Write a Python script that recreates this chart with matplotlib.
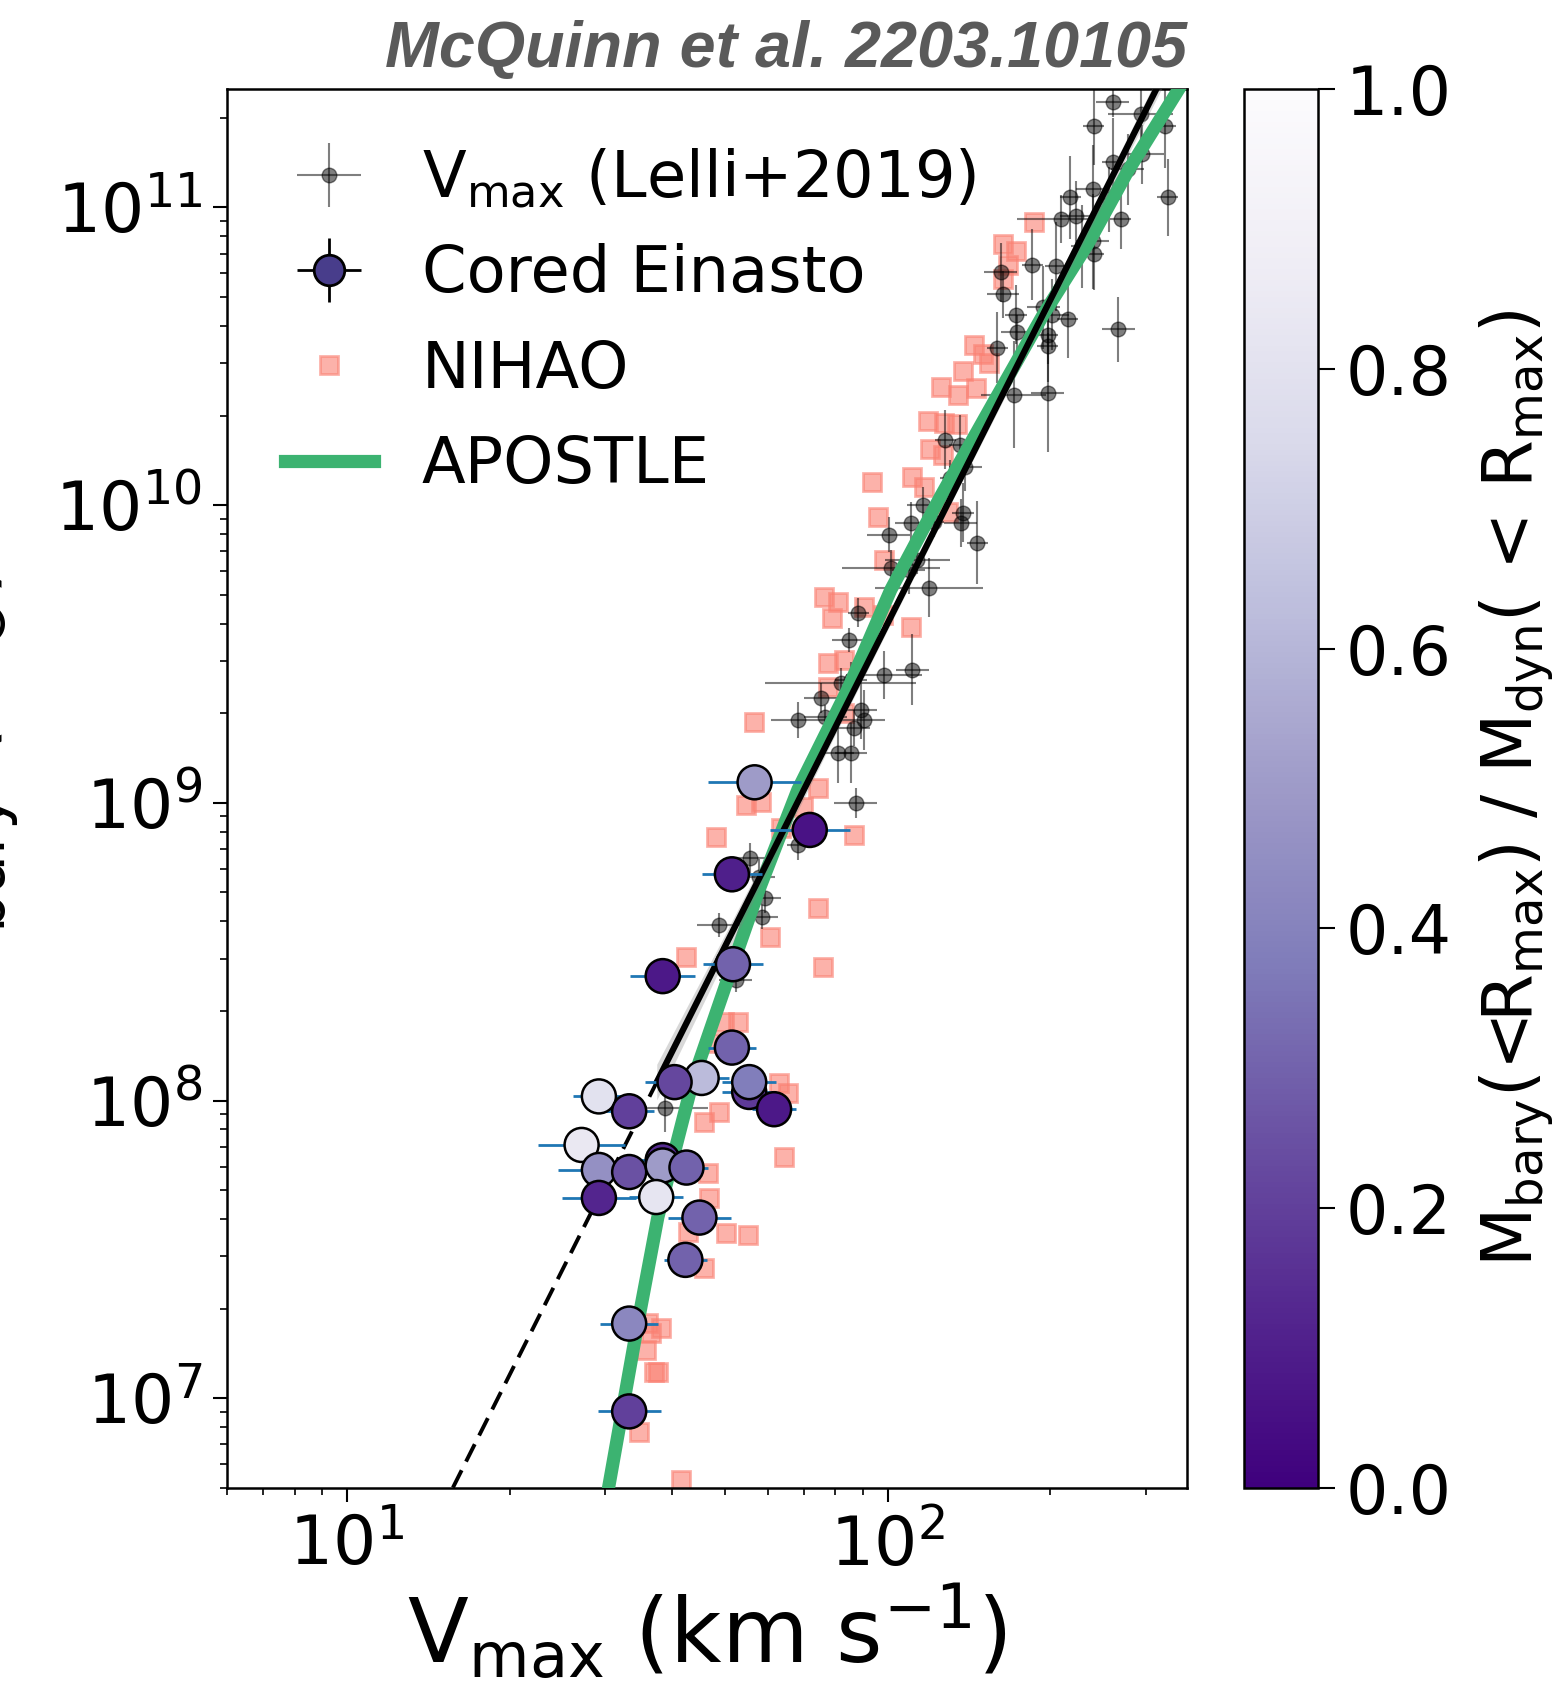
import numpy as np
import matplotlib
matplotlib.use("Agg")
import matplotlib.pyplot as plt

plt.rcParams['font.family'] = ['DejaVu Sans']
plt.rcParams['mathtext.fontset'] = 'dejavusans'

# Lelli+2019: log10 Vmax (km/s), log10 Mbary (Msun), errors in dex
lelli_logv = [2.416, 2.381, 2.514, 2.468, 2.416, 2.471, 2.444, 2.379, 2.338, 2.409,
              2.518, 2.320, 2.348, 2.431, 2.360, 2.379, 2.381, 2.268, 2.311, 2.209,
              2.213, 2.288, 2.305, 2.237, 2.333, 2.240, 2.296, 2.296, 2.427, 2.203,
              2.233, 2.296, 2.107, 2.133, 2.144, 2.116, 2.065, 2.043, 2.002, 2.139,
              2.135, 2.166, 2.085, 2.006, 2.039, 2.055, 2.076, 1.946, 1.928, 1.913,
              1.932, 1.993, 2.046, 1.876, 1.834, 1.885, 1.950, 1.956, 1.937, 1.908,
              1.932, 1.941, 1.834, 1.745, 1.762, 1.773, 1.767, 1.688, 1.719, 1.588]
lelli_logm = [11.353, 11.272, 11.272, 11.313, 11.151, 11.178, 11.128, 11.061, 11.034, 11.027,
              11.034, 10.960, 10.970, 10.960, 10.869, 10.886, 10.842, 10.808, 10.802, 10.782,
              10.708, 10.664, 10.640, 10.640, 10.624, 10.580, 10.573, 10.533, 10.590, 10.529,
              10.371, 10.378, 10.220, 10.203, 10.129, 10.092, 10.002, 9.941, 9.901, 9.975,
              9.941, 9.874, 9.944, 9.790, 9.783, 9.817, 9.723, 9.639, 9.548, 9.403,
              9.413, 9.430, 9.447, 9.353, 9.279, 9.289, 9.313, 9.279, 9.252, 9.168,
              9.168, 9.000, 8.859, 8.815, 8.751, 8.681, 8.617, 8.590, 8.405, 7.975]
lelli_xerr = [0.03, 0.02, 0.02, 0.06, 0.02, 0.04, 0.03, 0.03, 0.02, 0.02,
              0.02, 0.08, 0.03, 0.02, 0.02, 0.03, 0.02, 0.02, 0.02, 0.03,
              0.03, 0.03, 0.03, 0.02, 0.02, 0.03, 0.02, 0.02, 0.03, 0.02,
              0.06, 0.03, 0.02, 0.02, 0.03, 0.02, 0.03, 0.03, 0.04, 0.02,
              0.03, 0.02, 0.02, 0.09, 0.03, 0.06, 0.10, 0.02, 0.03, 0.14,
              0.03, 0.07, 0.03, 0.03, 0.05, 0.04, 0.03, 0.04, 0.03, 0.03,
              0.03, 0.04, 0.02, 0.03, 0.03, 0.03, 0.03, 0.04, 0.03, 0.08]
lelli_yerr = [0.05, 0.13, 0.14, 0.10, 0.15, 0.10, 0.12, 0.15, 0.14, 0.11,
              0.13, 0.08, 0.12, 0.10, 0.14, 0.16, 0.12, 0.12, 0.15, 0.10,
              0.08, 0.14, 0.12, 0.10, 0.13, 0.06, 0.10, 0.12, 0.11, 0.12,
              0.18, 0.20, 0.10, 0.10, 0.08, 0.06, 0.06, 0.07, 0.06, 0.10,
              0.08, 0.14, 0.05, 0.06, 0.08, 0.05, 0.10, 0.05, 0.04, 0.05,
              0.06, 0.08, 0.12, 0.05, 0.06, 0.04, 0.10, 0.10, 0.06, 0.10,
              0.10, 0.05, 0.05, 0.05, 0.06, 0.05, 0.04, 0.04, 0.04, 0.08]

# NIHAO simulations
nihao_logv = [2.270, 2.214, 2.237, 2.222, 2.213, 2.159, 2.177, 2.187, 2.139, 2.098,
              2.131, 2.163, 2.074, 2.104, 2.129, 2.079, 2.102, 1.972, 2.046, 2.067,
              1.983, 2.111, 1.993, 1.882, 1.908, 1.898, 1.956, 1.991, 2.043, 1.889,
              1.919, 1.889, 1.919, 1.752, 1.872, 1.738, 1.765, 1.843, 1.802, 1.682,
              1.937, 1.872, 1.782, 1.627, 1.880, 1.697, 1.723, 1.682, 1.799, 1.815,
              1.688, 1.660, 1.808, 1.667, 1.669, 1.630, 1.701, 1.741, 1.660, 1.556,
              1.580, 1.562, 1.553, 1.567, 1.575, 1.540, 1.617]
nihao_logm = [10.950, 10.876, 10.852, 10.808, 10.758, 10.539, 10.506, 10.479, 10.452, 10.398,
              10.371, 10.395, 10.281, 10.277, 10.271, 10.187, 10.170, 10.079, 10.096, 10.062,
              9.961, 9.978, 9.817, 9.692, 9.676, 9.622, 9.659, 9.632, 9.592, 9.471,
              9.481, 9.390, 9.303, 9.272, 9.050, 8.993, 9.003, 8.987, 8.916, 8.886,
              8.892, 8.647, 8.550, 8.482, 8.449, 8.264, 8.264, 8.193, 8.059, 8.025,
              7.961, 7.928, 7.810, 7.756, 7.672, 7.558, 7.555, 7.548, 7.437, 7.252,
              7.235, 7.218, 7.161, 7.087, 7.087, 6.886, 6.724]

# Cored Einasto fits, coloured by Mbary/Mdyn within Rmax
einasto_logv = [1.754, 1.856, 1.712, 1.714, 1.584, 1.712, 1.656, 1.606, 1.744, 1.744,
                1.790, 1.466, 1.522, 1.434, 1.466, 1.522, 1.584, 1.584, 1.628, 1.466,
                1.572, 1.652, 1.626, 1.522, 1.522]
einasto_logm = [9.069, 8.909, 8.760, 8.458, 8.418, 8.178, 8.076, 8.062, 8.029, 8.062,
                7.971, 8.014, 7.964, 7.851, 7.767, 7.760, 7.800, 7.782, 7.775, 7.673,
                7.676, 7.607, 7.465, 7.251, 6.956]
einasto_xerr = [0.086, 0.074, 0.056, 0.056, 0.060, 0.045, 0.050, 0.054, 0.050, 0.050,
                0.040, 0.048, 0.045, 0.080, 0.075, 0.040, 0.050, 0.050, 0.040, 0.068,
                0.050, 0.058, 0.040, 0.054, 0.058]
einasto_ratio = [0.50, 0.06, 0.10, 0.30, 0.08, 0.30, 0.62, 0.22, 0.18, 0.38,
                 0.08, 0.80, 0.20, 0.84, 0.46, 0.25, 0.14, 0.50, 0.30, 0.12,
                 0.82, 0.30, 0.30, 0.42, 0.20]

# APOSTLE relation
apostle_logv = [1.480, 1.538, 1.575, 1.640, 1.723, 1.762, 1.834, 1.926, 2.006,
                2.098, 2.196, 2.288, 2.370, 2.444, 2.560]
apostle_logm = [6.66, 7.252, 7.608, 8.069, 8.506, 8.708, 9.044, 9.380, 9.716,
                10.029, 10.345, 10.640, 10.876, 11.121, 11.460]

# power-law fit: dashed extrapolation, then solid over the fitted range
fit_logv = [1.196, 1.573, 2.520]
fit_logm = [6.700, 8.062, 11.480]
band_logv = [1.573, 1.700, 1.900, 2.100, 2.300, 2.520]
band_hw = [0.06, 0.04, 0.025, 0.02, 0.025, 0.035]


def lin_err(logx, dex):
    logx = np.asarray(logx)
    dex = np.asarray(dex)
    x = 10**logx
    return np.vstack([x - 10**(logx - dex), 10**(logx + dex) - x])


fig = plt.figure(figsize=(15.57, 16.97), dpi=100)
ax = fig.add_axes([0.1458, 0.1232, 0.6166, 0.8244])
cax = fig.add_axes([0.799, 0.1232, 0.0475, 0.8244])

nihao, = ax.plot(10**np.array(nihao_logv), 10**np.array(nihao_logm), 's', ls='none',
                 color='salmon', ms=13.5, mew=2, alpha=0.6, zorder=1, label='NIHAO')

lelli = ax.errorbar(10**np.array(lelli_logv), 10**np.array(lelli_logm),
                    xerr=lin_err(lelli_logv, lelli_xerr), yerr=lin_err(lelli_logm, lelli_yerr),
                    fmt='o', color='k', ms=10.5, alpha=0.5, elinewidth=1.5, capsize=0,
                    zorder=2, label=r'V$_{\rm max}$ (Lelli+2019)')

apostle, = ax.plot(10**np.array(apostle_logv), 10**np.array(apostle_logm),
                   color='#3cb371', lw=9.5, zorder=3, label='APOSTLE')

bl = np.array(band_logv)
bm = np.interp(bl, fit_logv, fit_logm)
ax.fill_between(10**bl, 10**(bm - np.array(band_hw)), 10**(bm + np.array(band_hw)),
                color='gray', alpha=0.3, lw=0, zorder=3)
ax.plot(10**np.array(fit_logv[:2]), 10**np.array(fit_logm[:2]), color='k', lw=2.8,
        dashes=(5, 2.5), zorder=3)
ax.plot(10**np.array(fit_logv[1:]), 10**np.array(fit_logm[1:]), color='k', lw=4.5, zorder=3)

ax.errorbar(10**np.array(einasto_logv), 10**np.array(einasto_logm),
            xerr=lin_err(einasto_logv, einasto_xerr), fmt='none', ecolor='C0',
            elinewidth=2, capsize=0, zorder=4)
sc = ax.scatter(10**np.array(einasto_logv), 10**np.array(einasto_logm), c=einasto_ratio,
                cmap='Purples_r', vmin=0, vmax=1, s=600, edgecolors='k', linewidths=1.8,
                zorder=5)

ein_proxy = ax.errorbar([], [], xerr=[], yerr=[], fmt='o', mfc='#483d8b', mec='k',
                        ecolor='k', ms=22, mew=2, elinewidth=2, capsize=0,
                        label='Cored Einasto')

ax.set_xscale('log')
ax.set_yscale('log')
ax.set_xlim(6, 358)
ax.set_ylim(5e6, 2.5e11)

ax.tick_params(which='major', length=10, width=1.5, labelsize=49, pad=8)
ax.tick_params(which='minor', length=5, width=1.2)
for s in ax.spines.values():
    s.set_linewidth(1.8)

ax.set_xlabel(r'V$_{\rm max}$ (km s$^{-1}$)', fontsize=64, labelpad=2)
ax.set_ylabel(r'M$_{\rm bary}$ (M$_{\odot}$)', fontsize=64)
ax.yaxis.set_label_coords(-0.215, 0.5)

ax.legend(handles=[lelli, ein_proxy, nihao, apostle], loc='upper left', frameon=False,
          fontsize=46, handlelength=1.4, handletextpad=0.75, labelspacing=0.52,
          borderaxespad=0.5, borderpad=0.4)

cbar = fig.colorbar(sc, cax=cax)
cbar.set_ticks([0.0, 0.2, 0.4, 0.6, 0.8, 1.0])
cbar.ax.tick_params(length=12, width=1.5, labelsize=48, pad=8)
cbar.outline.set_linewidth(1.8)
cbar.set_label(r'M$_{\rm bary}$(<R$_{\rm max}$) / M$_{\rm dyn}$($\,<\,$R$_{\rm max}$)',
               fontsize=49.5, labelpad=18)

fig.text(1187 / 1557, 1 - 50 / 1697, 'McQuinn et al. 2203.10105', ha='right', va='center',
         fontsize=46.5, fontweight='bold', style='italic', color='#5a5a5a',
         family='Liberation Sans')

fig.savefig('out.png', dpi=100)
